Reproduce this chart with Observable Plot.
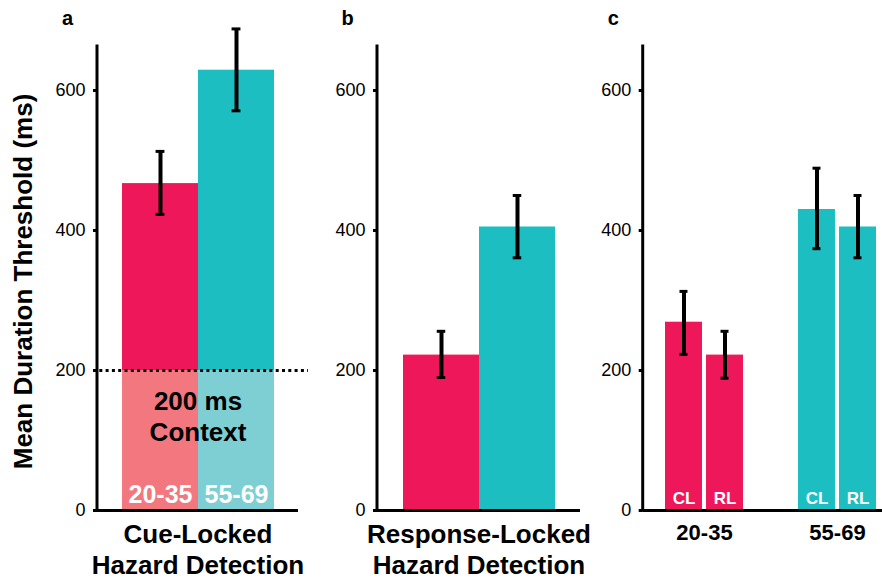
<!DOCTYPE html>
<html><head><meta charset="utf-8">
<script src="https://cdn.jsdelivr.net/npm/d3@7"></script>
<script src="https://cdn.jsdelivr.net/npm/@observablehq/plot@0.6"></script>
<style>
body{margin:0;background:#fff;}
#chart{display:flex;width:882px;height:581px;overflow:hidden;}
#chart svg{display:block;flex:none;}
</style></head><body><div id="chart"></div>
<script>
// ---------- data ----------
const ageGroups = ["20-35", "55-69"];
const conditions = ["CL", "RL"];
// panel a: cue-locked (200 ms context)
const cueLockedMean = [467, 629];
const cueLockedLo = [423, 571];
const cueLockedHi = [513, 688];
// panel b: response-locked
const respLockedMean = [222, 405];
const respLockedLo = [190, 361];
const respLockedHi = [256, 450];
// panel c: CL (context removed) and RL by age group
const clMean = [269, 430];
const clLo = [223, 374];
const clHi = [313, 489];
const rlMean = [222, 405];
const rlLo = [189, 361];
const rlHi = [256, 450];
const contextMs = 200;
const yTicks = [0, 200, 400, 600];
const yMax = 665;
const panelLetters = ["a", "b", "c"];
const yTitle = "Mean Duration Threshold (ms)";
const titleA = "Cue-Locked\nHazard Detection";
const titleB = "Response-Locked\nHazard Detection";
const contextLabel = "200 ms\nContext";

// ---------- styles ----------
const FONT = "'Liberation Sans', Arial, Helvetica, sans-serif";
const dark = {"20-35": "#EE1759", "55-69": "#1CBEC2"};
const light = {"20-35": "#F2777F", "55-69": "#7ECFD3"};
const H = 581, MT = 44.5, MB = 71;

function yAxisLine() {
  return (index, scales, values, dims) => {
    const l = document.createElementNS("http://www.w3.org/2000/svg", "line");
    l.setAttribute("x1", dims.marginLeft);
    l.setAttribute("x2", dims.marginLeft);
    l.setAttribute("y1", dims.marginTop);
    l.setAttribute("y2", dims.height - dims.marginBottom + 1.5);
    l.setAttribute("stroke", "#000");
    l.setAttribute("stroke-width", 3);
    return l;
  };
}

function panel({width, marginLeft, marginRight, x, letter, marks}) {
  return Plot.plot({
    width, height: H, marginTop: MT, marginBottom: MB, marginLeft, marginRight,
    style: {fontFamily: FONT, fontSize: "18px", color: "#000", background: "transparent", overflow: "visible"},
    x: {...x, axis: null},
    y: {domain: [0, yMax]},
    marks: [
      ...marks,
      yAxisLine(),
      Plot.ruleY([0], {strokeWidth: 3, stroke: "#000"}),
      Plot.axisY({ticks: yTicks, tickSize: 4, tickPadding: 8, strokeWidth: 3, label: null, fontSize: 18, fill: "#000"}),
      Plot.text([letter], {frameAnchor: "top-left", dx: -30, dy: -26.5, fontSize: 20, fontWeight: "bold", lineAnchor: "middle", textAnchor: "middle"})
    ]
  });
}

function errorMarks(data, xField, opts = {}) {
  const {dx = 0, capLeft = 0, capRight = 0, filter} = opts;
  return [
    Plot.ruleX(data, {x: xField, y1: "lo", y2: "hi", strokeWidth: 4, stroke: "#000", dx, filter}),
    Plot.tickY(data, {x: xField, y: "lo", strokeWidth: 3, stroke: "#000", insetLeft: capLeft, insetRight: capRight, filter}),
    Plot.tickY(data, {x: xField, y: "hi", strokeWidth: 3, stroke: "#000", insetLeft: capLeft, insetRight: capRight, filter})
  ];
}

const CAP = 9;

// ---------- panel a ----------
const dataA = ageGroups.map((g, i) => ({group: g, mean: cueLockedMean[i], lo: cueLockedLo[i], hi: cueLockedHi[i]}));
const aW = 310, aML = 97, aMR = 12, aInL = 24.7, aInR = 24;
const bwA = (aW - aML - aMR - aInL - aInR) / ageGroups.length;
const chartA = panel({
  width: aW, marginLeft: aML, marginRight: aMR, letter: panelLetters[0],
  x: {domain: ageGroups, padding: 0, insetLeft: aInL, insetRight: aInR},
  marks: [
    Plot.rectY(dataA, {x: "group", y1: 0, y2: "mean", fill: d => dark[d.group]}),
    Plot.rectY(dataA, {x: "group", y1: 0, y2: d => Math.min(d.mean, contextMs), fill: d => light[d.group]}),
    ...errorMarks(dataA, "group", {capLeft: (bwA - CAP) / 2, capRight: (bwA - CAP) / 2}),
    Plot.ruleY([contextMs], {stroke: "#000", strokeWidth: 3, strokeDasharray: "3,3.3", insetLeft: -4, insetRight: -10}),
    Plot.text(dataA, {x: "group", frameAnchor: "bottom", text: "group", dy: -15.5, fill: "#fff", fontWeight: "bold", fontSize: 25, lineAnchor: "middle"}),
    Plot.text([contextLabel], {frameAnchor: "bottom", dy: -94.75, fontWeight: "bold", fontSize: 26, lineHeight: 1.17, lineAnchor: "middle", fill: "#000"}),
    Plot.text([titleA], {frameAnchor: "bottom", dy: 37.75, fontWeight: "bold", fontSize: 26, lineHeight: 1.21, lineAnchor: "middle", fill: "#000"}),
    Plot.text([yTitle], {frameAnchor: "left", dx: -74, dy: 3.75, rotate: -90, fontWeight: "bold", fontSize: 26, lineAnchor: "middle", textAnchor: "middle", fill: "#000"})
  ]
});

// ---------- panel b ----------
const dataB = ageGroups.map((g, i) => ({group: g, mean: respLockedMean[i], lo: respLockedLo[i], hi: respLockedHi[i]}));
const bW = 280, bML = 67, bMR = 10, bInL = 25, bInR = 25;
const bwB = (bW - bML - bMR - bInL - bInR) / ageGroups.length;
const chartB = panel({
  width: bW, marginLeft: bML, marginRight: bMR, letter: panelLetters[1],
  x: {domain: ageGroups, padding: 0, insetLeft: bInL, insetRight: bInR},
  marks: [
    Plot.rectY(dataB, {x: "group", y1: 0, y2: "mean", fill: d => dark[d.group]}),
    ...errorMarks(dataB, "group", {capLeft: (bwB - CAP) / 2, capRight: (bwB - CAP) / 2}),
    Plot.text([titleB], {frameAnchor: "bottom", dy: 37.75, fontWeight: "bold", fontSize: 26, lineHeight: 1.21, lineAnchor: "middle", fill: "#000"})
  ]
});

// ---------- panel c ----------
const dataC = [];
ageGroups.forEach((g, i) => {
  dataC.push({group: g, cond: conditions[0], mean: clMean[i], lo: clLo[i], hi: clHi[i]});
  dataC.push({group: g, cond: conditions[1], mean: rlMean[i], lo: rlLo[i], hi: rlHi[i]});
});
const cW = 292, cML = 52.7, cMR = 0, cInL = 21.3, cInR = 5, cPadInner = 0.41;
const stepC = (cW - cML - cMR - cInL - cInR) / (ageGroups.length - cPadInner);
const bwC = stepC * (1 - cPadInner);
const GAP = 3;
const barW = (bwC - GAP) / 2;
const isCL = d => d.cond === conditions[0];
const isRL = d => d.cond === conditions[1];
const offC = bwC / 2 - barW / 2;
const chartC = panel({
  width: cW, marginLeft: cML, marginRight: cMR, letter: panelLetters[2],
  x: {domain: ageGroups, paddingInner: cPadInner, paddingOuter: 0, insetLeft: cInL, insetRight: cInR},
  marks: [
    Plot.rectY(dataC, {filter: isCL, x: "group", y1: 0, y2: "mean", fill: d => dark[d.group], insetRight: bwC - barW}),
    Plot.rectY(dataC, {filter: isRL, x: "group", y1: 0, y2: "mean", fill: d => dark[d.group], insetLeft: bwC - barW}),
    ...errorMarks(dataC, "group", {filter: isCL, dx: -offC, capLeft: barW / 2 - CAP / 2, capRight: bwC - barW / 2 - CAP / 2}),
    ...errorMarks(dataC, "group", {filter: isRL, dx: offC, capLeft: bwC - barW / 2 - CAP / 2, capRight: barW / 2 - CAP / 2}),
    Plot.text(dataC, {filter: isCL, x: "group", frameAnchor: "bottom", text: "cond", dx: -offC, dy: -12, fill: "#fff", fontWeight: "bold", fontSize: 17, lineAnchor: "middle"}),
    Plot.text(dataC, {filter: isRL, x: "group", frameAnchor: "bottom", text: "cond", dx: offC, dy: -12, fill: "#fff", fontWeight: "bold", fontSize: 17, lineAnchor: "middle"}),
    Plot.text(ageGroups, {x: d => d, frameAnchor: "bottom", text: d => d, dy: 22, fontWeight: "bold", fontSize: 22, lineAnchor: "middle", fill: "#000"})
  ]
});

const root = document.getElementById("chart");
root.append(chartA, chartB, chartC);
</script></body></html>
